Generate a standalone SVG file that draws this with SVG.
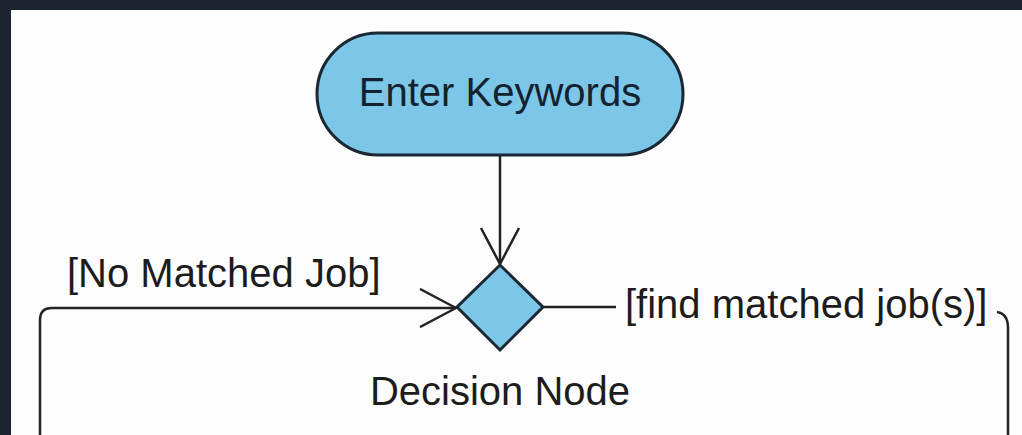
<svg xmlns="http://www.w3.org/2000/svg" width="1022" height="435" viewBox="0 0 1022 435">
  <style>
    .label { font-family: "Liberation Sans", Arial, sans-serif; font-size: 40px; fill: #1c1c1c; }
    .node-text { font-family: "Liberation Sans", Arial, sans-serif; font-size: 40px; fill: #13222f; }
    .shape { fill: #7cc6e7; stroke: #1b2733; stroke-width: 3; }
    .edge { fill: none; stroke: #232323; stroke-width: 2.5; stroke-linejoin: round; }
  </style>
  <defs>
    <marker id="open-arrow" viewBox="0 0 40 40" refX="38" refY="20" markerWidth="40" markerHeight="40" markerUnits="userSpaceOnUse" orient="auto">
      <path d="M2,1 L38,20 L2,39" fill="none" stroke="#232323" stroke-width="2.5"/>
    </marker>
  </defs>

  <!-- canvas and dark frame -->
  <rect x="0" y="0" width="1022" height="435" fill="#1c2331"/>
  <rect x="11" y="10" width="1011" height="425" fill="#fdfdfd"/>

  <!-- connectors -->
  <g id="connectors">
    <path class="edge" d="M500,155 V264" marker-end="url(#open-arrow)"/>
    <path class="edge" d="M40,435 V320 Q40,308 52,308 H456" marker-end="url(#open-arrow)"/>
    <path class="edge" d="M544,307 H616"/>
    <path class="edge" d="M997,312 C1004,313 1008,318 1008,328 V435"/>
  </g>

  <!-- start node -->
  <g id="enter-keywords">
    <rect class="shape" x="317" y="33" width="366" height="122" rx="61" ry="61"/>
    <text class="node-text" x="500" y="106" text-anchor="middle">Enter Keywords</text>
  </g>

  <!-- decision node -->
  <g id="decision">
    <polygon class="shape" points="500,265 543,307 500,350 457,307"/>
    <text class="label" x="500" y="405" text-anchor="middle">Decision Node</text>
  </g>

  <!-- guard labels -->
  <g id="guards">
    <text class="label" x="67" y="287">[No Matched Job]</text>
    <text class="label" x="625" y="318">[find matched job(s)]</text>
  </g>
</svg>
